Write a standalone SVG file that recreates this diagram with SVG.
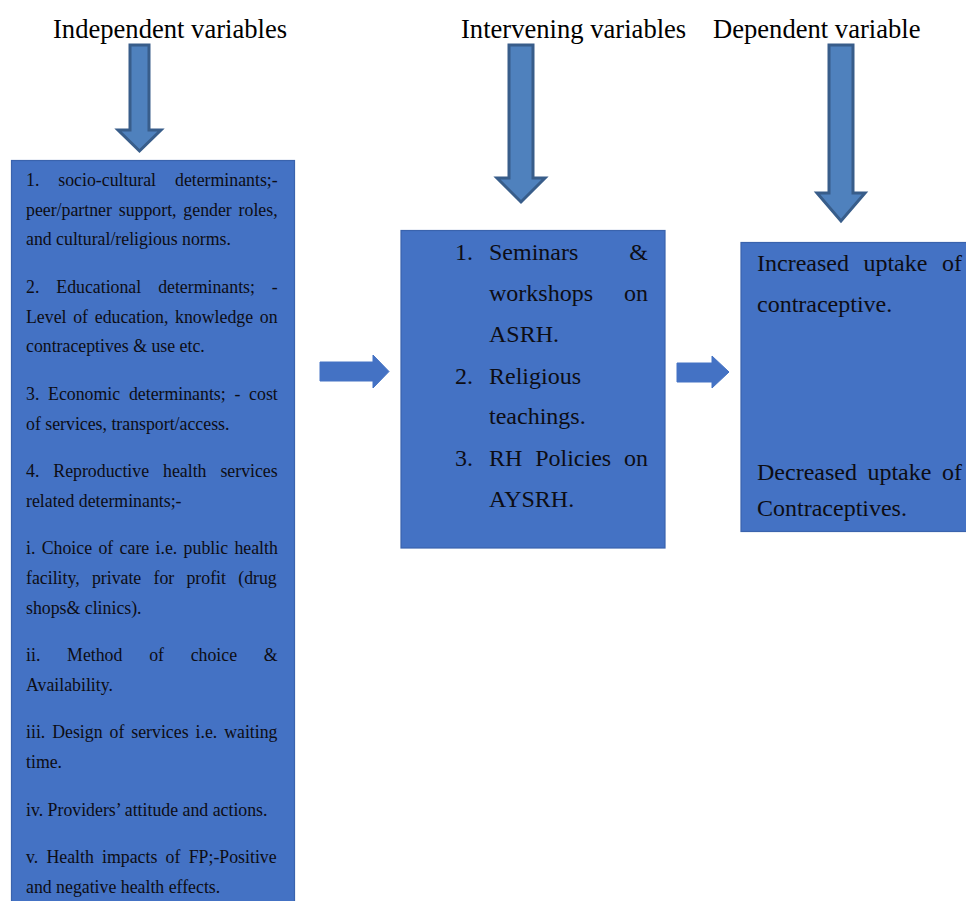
<svg xmlns="http://www.w3.org/2000/svg" width="966" height="901" viewBox="0 0 966 901">
<defs>
<style>
.hdr{font-family:'Liberation Serif','Tinos','Times New Roman',serif;font-size:26.6px;fill:#000}
.box{fill:#4472C4;stroke:#3A63AD;stroke-width:1.2}
.lt{font-family:'Liberation Serif','Tinos','Times New Roman',serif;font-size:17.8px;fill:#0d0d14}
.mt{font-family:'Liberation Serif','Tinos','Times New Roman',serif;font-size:24px;fill:#0d0d14}
.down{fill:#4F81BD;stroke:#385D8A;stroke-width:3;stroke-linejoin:miter}
.right{fill:#4472C4;stroke:#4472C4;stroke-width:1}
</style>
</defs>
<rect width="966" height="901" fill="#fff"/>

<g id="headers">
<text class="hdr" x="53" y="38">Independent variables</text>
<text class="hdr" x="461" y="38">Intervening variables</text>
<text class="hdr" x="713" y="38">Dependent variable</text>
</g>

<g id="independent">
<rect class="box" x="11.5" y="160.5" width="283" height="760"/>
<text class="lt" x="26" y="186" word-spacing="14.5">1. socio-cultural determinants;-</text>
<text class="lt" x="26" y="216" word-spacing="2.4">peer/partner support, gender roles,</text>
<text class="lt" x="26" y="245">and cultural/religious norms.</text>
<text class="lt" x="26" y="293" word-spacing="12.5">2. Educational determinants; -</text>
<text class="lt" x="26" y="323" word-spacing="2.3">Level of education, knowledge on</text>
<text class="lt" x="26" y="352">contraceptives &amp; use etc.</text>
<text class="lt" x="26" y="400" word-spacing="4.3">3. Economic determinants; - cost</text>
<text class="lt" x="26" y="430">of services, transport/access.</text>
<text class="lt" x="26" y="477" word-spacing="9.5">4. Reproductive health services</text>
<text class="lt" x="26" y="507">related determinants;-</text>
<text class="lt" x="26" y="554" word-spacing="1.9">i. Choice of care i.e. public health</text>
<text class="lt" x="26" y="584" word-spacing="7.8">facility, private for profit (drug</text>
<text class="lt" x="26" y="614">shops&amp; clinics).</text>
<text class="lt" x="26" y="661" word-spacing="22.3">ii. Method of choice &amp;</text>
<text class="lt" x="26" y="691">Availability.</text>
<text class="lt" x="26" y="738" word-spacing="2.5">iii. Design of services i.e. waiting</text>
<text class="lt" x="26" y="768">time.</text>
<text class="lt" x="26" y="816">iv. Providers’ attitude and actions.</text>
<text class="lt" x="26" y="863" word-spacing="3.8">v. Health impacts of FP;-Positive</text>
<text class="lt" x="26" y="893">and negative health effects.</text>
</g>

<g id="intervening">
<rect class="box" x="401" y="230.5" width="264" height="317.5"/>
<text class="mt" y="260"><tspan x="455">1.</tspan><tspan x="489">Seminars</tspan><tspan x="648" text-anchor="end">&amp;</tspan></text>
<text class="mt" y="301"><tspan x="489">workshops</tspan><tspan x="648" text-anchor="end">on</tspan></text>
<text class="mt" x="489" y="342">ASRH.</text>
<text class="mt" y="384"><tspan x="455">2.</tspan><tspan x="489">Religious</tspan></text>
<text class="mt" x="489" y="424">teachings.</text>
<text class="mt" y="466"><tspan x="455">3.</tspan><tspan x="489" word-spacing="6.8">RH Policies on</tspan></text>
<text class="mt" x="489" y="507">AYSRH.</text>
</g>

<g id="dependent">
<rect class="box" x="741" y="242.5" width="240" height="289"/>
<text class="mt" x="757" y="271" word-spacing="8.5">Increased uptake of</text>
<text class="mt" x="757" y="312">contraceptive.</text>
<text class="mt" x="757" y="480" word-spacing="4.5">Decreased uptake of</text>
<text class="mt" x="757" y="516">Contraceptives.</text>
</g>

<g id="connectors">
<polygon class="down" points="130,45 149,45 149,130 161,130 139.5,151 118,130 130,130"/>
<polygon class="down" points="509,45 533,45 533,178 545,178 521,202 497,178 509,178"/>
<polygon class="down" points="829,45 853,45 853,193 865,193 841,221 817,193 829,193"/>
<polygon class="right" points="320,362 373,362 373,355 389,371.5 373,388 373,381 320,381"/>
<polygon class="right" points="677,363 712,363 712,356 729,372 712,388 712,382 677,382"/>
</g>
</svg>
